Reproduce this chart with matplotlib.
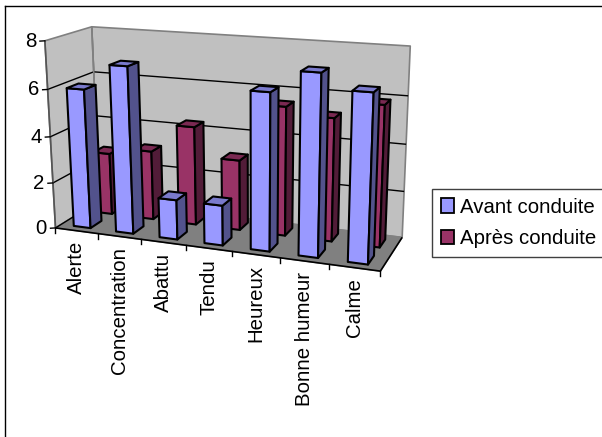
import numpy as np
import matplotlib
matplotlib.use("Agg")
import matplotlib.pyplot as plt
from matplotlib.patches import Polygon, Patch

categories = ["Alerte", "Concentration", "Abattu", "Tendu", "Heureux", "Bonne humeur", "Calme"]
avant = [6.0, 7.1, 1.7, 1.7, 6.5, 7.4, 6.8]
apres = [2.75, 3.05, 4.3, 3.05, 5.5, 5.2, 5.9]
series_names = ["Avant conduite", "Après conduite"]
y_ticks = [0, 2, 4, 6, 8]

plt.rcParams["font.family"] = ["Liberation Sans", "DejaVu Sans"]
FS = 14.7
W, H = 602, 437
fig = plt.figure(figsize=(W / 100, H / 100), dpi=100)
ax = fig.add_axes([0, 0, 1, 1])
ax.set_xlim(0, W)
ax.set_ylim(H, 0)
ax.axis("off")

# perspective camera calibrated from the box corners (cat, depth, value) -> pixel
n = len(categories)
front_y = lambda x: 228 + (x - 55) * 43 / 325
calib = [
    (0, 0, 0, 55, 228), (7, 0, 0, 380, 271), (0, 1, 0, 102, 201), (7, 1, 0, 402, 237),
    (0, 1, 8, 90, 27), (7, 1, 8, 411, 46), (0, 0, 8, 47, 41),
    (0, 0, 6, 48.3, 89), (0, 0, 4, 50, 137), (0, 0, 2, 52.3, 183),
    (7, 1, 6, 408, 96), (7, 1, 4, 405.7, 144), (7, 1, 2, 404, 192),
    (0, 1, 6, 92.7, 72), (0, 1, 4, 95.7, 115),
    (1, 0, 0, 96, front_y(96)), (2, 0, 0, 141, front_y(141)), (3, 0, 0, 186, front_y(186)),
    (4, 0, 0, 233, front_y(233)), (5, 0, 0, 280, front_y(280)), (6, 0, 0, 330, front_y(330)),
]
A, b = [], []
for X, Y, Z, u, v in calib:
    A.append([X, Y, Z, 1, 0, 0, 0, 0, -u * X, -u * Y, -u * Z]); b.append(u)
    A.append([0, 0, 0, 0, X, Y, Z, 1, -v * X, -v * Y, -v * Z]); b.append(v)
p = np.linalg.lstsq(np.array(A, float), np.array(b, float), rcond=None)[0]
P = np.append(p, 1.0).reshape(3, 4)


def proj(X, Y, Z):
    q = P @ np.array([X, Y, Z, 1.0])
    return q[0] / q[2], q[1] / q[2]


def poly(pts, fc, ec="black", lw=1.5, z=2):
    ax.add_patch(Polygon([proj(*t) for t in pts], closed=True, facecolor=fc, edgecolor=ec,
                         linewidth=lw, joinstyle="round", zorder=z))


def seg(a, b_, color="black", lw=1.0, z=1.5):
    pa, pb = proj(*a), proj(*b_)
    ax.plot([pa[0], pb[0]], [pa[1], pb[1]], color=color, lw=lw, zorder=z, solid_capstyle="butt")


# chart-area edges
ax.plot([5, 5], [H, 6], color="black", lw=1.0, zorder=1)
ax.plot([5, W], [6, 6], color="black", lw=1.0, zorder=1)

# walls and floor
N, T = n, y_ticks[-1]
poly([(0, 1, 0), (N, 1, 0), (N, 1, T), (0, 1, T)], "#C0C0C0", "#808080", 1.2, 1)
poly([(0, 0, 0), (0, 1, 0), (0, 1, T), (0, 0, T)], "#C0C0C0", "#808080", 1.2, 1)
poly([(0, 0, 0), (N, 0, 0), (N, 1, 0), (0, 1, 0)], "#808080", "#808080", 1.0, 1)
for t in y_ticks[1:-1]:
    seg((0, 0, t), (0, 1, t))
    seg((0, 1, t), (N, 1, t))
seg((0, 1, 0), (0, 1, T), "#808080", 1.2)
seg((0, 0, 0), (0, 0, T), "#555555", 1.2)

# axes lines, ticks and labels
seg((0, 0, 0), (N, 0, 0), "black", 1.2, 1.6)
seg((N, 0, 0), (N, 1, 0), "black", 1.2, 1.6)
seg((0, 0, 0), (0, 1, 0), "black", 1.0, 1.6)
for t in y_ticks:
    x0, y0 = proj(0, 0, t)
    ax.plot([x0 - 5, x0], [y0 + 0.3, y0], color="black", lw=1.0, zorder=1.6)
    ax.text(x0 - 8.5, y0 + 0.5, str(t), ha="right", va="center", fontsize=FS, color="black")
for i in range(N + 1):
    x0, y0 = proj(i, 0, 0)
    ax.plot([x0, x0], [y0, y0 + 5], color="black", lw=1.0, zorder=1.6)
for i, name in enumerate(categories):
    x0, y0 = proj(i + 0.5, 0, 0)
    ax.text(x0, y0 + 10.5, name, rotation=90, ha="center", va="top", fontsize=FS, color="black")


# 3-D columns: back row first, each row left to right
def column(i, h, d0, d1, front, side, top):
    u0, u1 = i + 0.3, i + 0.7
    poly([(u0, d0, 0), (u1, d0, 0), (u1, d0, h), (u0, d0, h)], front)
    poly([(u1, d0, 0), (u1, d1, 0), (u1, d1, h), (u1, d0, h)], side)
    poly([(u0, d0, h), (u1, d0, h), (u1, d1, h), (u0, d1, h)], top)


for i, h in enumerate(apres):
    column(i, h, 0.625, 0.875, "#993366", "#521C38", "#7A2952")
for i, h in enumerate(avant):
    column(i, h, 0.125, 0.375, "#9999FF", "#52528C", "#7A7ACC")

# legend
handles = [Patch(facecolor="#9999FF", edgecolor="black", linewidth=1.3),
           Patch(facecolor="#993366", edgecolor="black", linewidth=1.3)]
leg = ax.legend(handles, series_names, loc="upper left", bbox_to_anchor=(432 / W, 1 - 189 / H),
                borderaxespad=0, fontsize=FS, frameon=True, fancybox=False, framealpha=1,
                edgecolor="#404040", handlelength=0.68, handleheight=0.7, handletextpad=0.25,
                labelspacing=0.62, borderpad=0.42)
leg.get_frame().set_linewidth(1.0)

fig.savefig("out.png", dpi=100)
